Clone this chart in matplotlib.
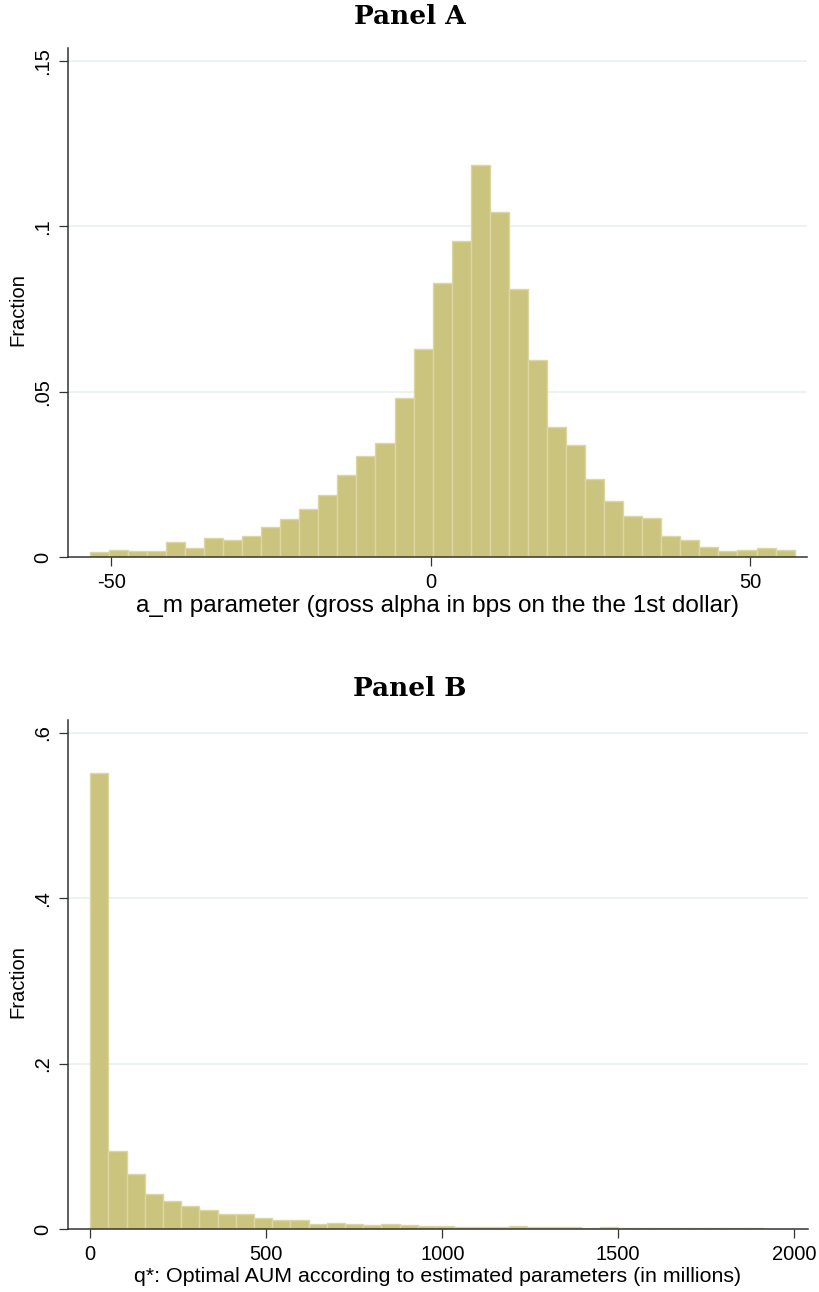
import numpy as np
import matplotlib
matplotlib.use("Agg")
import matplotlib.pyplot as plt

# ---------------- data ----------------
# Panel A: fraction of funds per bin of a_m (bps)
a_bin_start = -53.4
a_bin_width = 2.983
a_fraction = [0.0017, 0.0023, 0.0020, 0.0020, 0.0048, 0.0030, 0.0058, 0.0052,
              0.0064, 0.0092, 0.0115, 0.0148, 0.0188, 0.0248, 0.0306, 0.0345,
              0.0482, 0.0630, 0.0830, 0.0955, 0.1186, 0.1045, 0.0812, 0.0597,
              0.0394, 0.0339, 0.0236, 0.0170, 0.0126, 0.0118, 0.0064, 0.0052,
              0.0033, 0.0020, 0.0024, 0.0030, 0.0024]
a_xticks = [-50, 0, 50]
a_xticklabels = ["-50", "0", "50"]
a_yticks = [0, 0.05, 0.1, 0.15]
a_yticklabels = ["0", ".05", ".1", ".15"]
a_xlabel = "a_m parameter (gross alpha in bps on the the 1st dollar)"
a_title = "Panel A"

# Panel B: fraction of funds per bin of q* (millions)
b_bin_start = 0.0
b_bin_width = 51.68
b_fraction = [0.551, 0.0944, 0.0666, 0.0424, 0.0335, 0.0278, 0.0226, 0.0182,
              0.0182, 0.0133, 0.0105, 0.0109, 0.0065, 0.0073, 0.0065, 0.0052,
              0.0064, 0.0048, 0.0038, 0.0036, 0.0028, 0.0030, 0.0028, 0.0033,
              0.0024, 0.0024, 0.0024, 0.0016, 0.0020, 0.0012, 0.0012, 0.0012,
              0.0008, 0.0008, 0.0008, 0.0008, 0.0012]
b_xticks = [0, 500, 1000, 1500, 2000]
b_xticklabels = ["0", "500", "1000", "1500", "2000"]
b_yticks = [0, 0.2, 0.4, 0.6]
b_yticklabels = ["0", ".2", ".4", ".6"]
b_xlabel = "q*: Optimal AUM according to estimated parameters (in millions)"
b_title = "Panel B"

ylabel = "Fraction"

# ---------------- style ----------------
BAR_FILL = "#cbc47f"
BAR_EDGE = "#dcd7a2"
GRID = "#e8f0f2"
AXIS = "#333333"
SANS = ["Liberation Sans", "DejaVu Sans"]
SERIF = ["DejaVu Serif"]

fig = plt.figure(figsize=(8.19, 12.92), dpi=100)


def draw_panel(ax, start, width, values, xticks, xtl, yticks, ytl, xlim, ylim,
               xlabel, xlabel_size):
    n = len(values)
    edges = start + width * np.arange(n)
    ax.bar(edges, values, width=width, align="edge", color=BAR_FILL,
           edgecolor=BAR_EDGE, linewidth=1.0, zorder=2)
    for yv in yticks[1:]:
        ax.axhline(yv, color=GRID, linewidth=1.2, zorder=1)
    ax.set_xlim(*xlim)
    ax.set_ylim(*ylim)
    ax.set_xticks(xticks)
    ax.set_xticklabels(xtl, fontfamily=SANS, fontsize=14.5)
    ax.set_yticks(yticks)
    ax.set_yticklabels(ytl, fontfamily=SANS, fontsize=14.5, rotation=90,
                       va="center")
    for s in ("top", "right"):
        ax.spines[s].set_visible(False)
    for s in ("left", "bottom"):
        ax.spines[s].set_color(AXIS)
        ax.spines[s].set_linewidth(1.1)
    ax.tick_params(direction="out", length=6.5, width=0.9, color=AXIS,
                   pad=5)
    ax.set_xlabel(xlabel, fontfamily=SANS, fontsize=xlabel_size, labelpad=2)
    ax.set_ylabel(ylabel, fontfamily=SANS, fontsize=14.5)
    ax.yaxis.set_label_coords(-0.0555, 0.486)
    ax.set_facecolor("white")


axA = fig.add_axes([0.0830, 0.5685, 0.9023, 0.3941])
draw_panel(axA, a_bin_start, a_bin_width, a_fraction, a_xticks, a_xticklabels,
           a_yticks, a_yticklabels, (-56.8, 58.9), (0, 0.1538), a_xlabel, 17.5)

axB = fig.add_axes([0.0830, 0.04876, 0.9035, 0.3940])
draw_panel(axB, b_bin_start, b_bin_width, b_fraction, b_xticks, b_xticklabels,
           b_yticks, b_yticklabels, (-63.4, 2039), (0, 0.6153), b_xlabel, 15.4)

fig.text(0.5, 1 - 16 / 1292, a_title, ha="center", va="center",
         fontfamily=SERIF, fontweight="bold", fontsize=19)
fig.text(0.5, 1 - 688 / 1292, b_title, ha="center", va="center",
         fontfamily=SERIF, fontweight="bold", fontsize=19)

fig.savefig("out.png", dpi=100, facecolor="white")
